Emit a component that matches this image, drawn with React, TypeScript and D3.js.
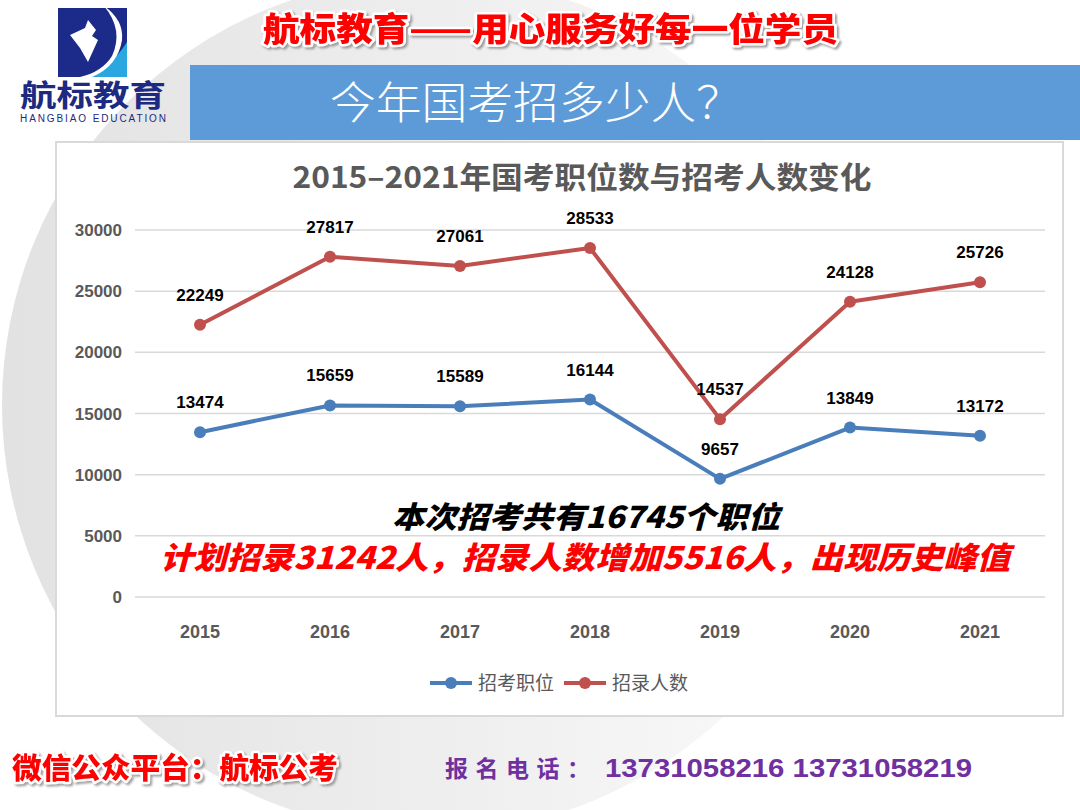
import * as d3 from "d3";

const years = ["2015", "2016", "2017", "2018", "2019", "2020", "2021"];
const positions = [13474, 15659, 15589, 16144, 9657, 13849, 13172];
const recruits = [22249, 27817, 27061, 28533, 14537, 24128, 25726];
const yTicks = [0, 5000, 10000, 15000, 20000, 25000, 30000];
const seriesNames = ["招考职位", "招录人数"];
const seriesColors = ["#4a7ebb", "#c0504d"];

const W = 1080;
const H = 810;
const plot = { left: 135, right: 1045, top: 230, bottom: 597 };

const CJK = "'Noto Sans CJK SC', sans-serif";
const NUM = "'Liberation Sans', Arial, sans-serif";

const App = () => {
  const x = d3
    .scalePoint<string>()
    .domain(years)
    .range([plot.left, plot.right])
    .padding(0.5);
  const y = d3.scaleLinear().domain([0, 30000]).range([plot.bottom, plot.top]);

  const line = d3
    .line<number>()
    .x((_, i) => x(years[i]) as number)
    .y((d) => y(d));

  const series = [positions, recruits];

  const redOutline = {
    fill: "#ff0000",
    stroke: "#ffffff",
    strokeWidth: 5,
    paintOrder: "stroke",
    strokeLinejoin: "round" as const,
    filter: "url(#shadow)",
  };

  return (
    <svg
      width={W}
      height={H}
      style={{ position: "absolute", left: 0, top: 0, background: "#fff" }}
    >
      <defs>
        <linearGradient id="circleGrad" x1="0" x2="1" y1="0" y2="0">
          <stop offset="0" stopColor="#e2e2e2" />
          <stop offset="0.55" stopColor="#efefef" />
          <stop offset="1" stopColor="#fbfbfb" />
        </linearGradient>
        <filter id="shadow" x="-10%" y="-30%" width="120%" height="160%">
          <feDropShadow dx="2" dy="2" stdDeviation="1.2" floodColor="#888" floodOpacity="0.8" />
        </filter>
      </defs>

      {/* background circle */}
      <circle cx={430} cy={405} r={428} fill="url(#circleGrad)" />

      {/* logo */}
      <g>
        <rect x={58} y={8} width={69} height={69} fill="#1c2a8a" />
        <path d="M127,42 L127,77 L88,77 Q112,66 127,42 Z" fill="#2aa6e0" />
        <path d="M104,6 Q124,30 112,56 Q102,72 80,77 L92,77 Q118,66 122,40 Q124,20 104,6 Z" fill="#ffffff" />
        <path d="M70,35 L85,28 L88,20 L96,30 L92,36 L98,40 L88,62 L80,48 Z" fill="#ffffff" />
        <text x={20} y={106} fontFamily={CJK} fontWeight={700} fontSize={30} fill="#1d2a82" textLength={146} lengthAdjust="spacingAndGlyphs">
          航标教育
        </text>
        <text x={20} y={122} fontFamily={NUM} fontSize={10} fill="#1d2a82" textLength={146} lengthAdjust="spacing">
          HANGBIAO EDUCATION
        </text>
      </g>

      {/* top slogan */}
      <text x={263} y={41} fontFamily={CJK} fontWeight={900} fontSize={33} textLength={575} lengthAdjust="spacingAndGlyphs" style={redOutline}>
        航标教育——用心服务好每一位学员
      </text>

      {/* banner */}
      <rect x={190} y={65} width={890} height={75} fill="#5c9bd8" />
      <text x={330} y={119} fontFamily={CJK} fontWeight={300} fontSize={44} fill="#ffffff" textLength={412} lengthAdjust="spacingAndGlyphs">
        今年国考招多少人？
      </text>

      {/* chart box */}
      <rect x={56} y={142} width={1007} height={574} fill="#ffffff" stroke="#d9d9d9" strokeWidth={2} />

      <text x={582} y={188} textAnchor="middle" fontFamily={CJK} fontWeight={700} fontSize={30} fill="#595959" textLength={579} lengthAdjust="spacingAndGlyphs">
        2015–2021年国考职位数与招考人数变化
      </text>

      {/* grid & y axis */}
      {yTicks.map((t) => (
        <g key={t}>
          <line x1={plot.left} x2={plot.right} y1={y(t)} y2={y(t)} stroke="#d9d9d9" strokeWidth={1.5} />
          <text x={122} y={y(t) + 6} textAnchor="end" fontFamily={NUM} fontWeight={700} fontSize={17} fill="#595959">
            {t}
          </text>
        </g>
      ))}

      {/* x axis labels */}
      {years.map((yr) => (
        <text key={yr} x={x(yr)} y={638} textAnchor="middle" fontFamily={NUM} fontWeight={700} fontSize={18} fill="#595959">
          {yr}
        </text>
      ))}

      {/* series */}
      {series.map((s, si) => (
        <g key={si}>
          <path d={line(s) || ""} fill="none" stroke={seriesColors[si]} strokeWidth={4} strokeLinejoin="round" />
          {s.map((v, i) => (
            <g key={i}>
              <circle cx={x(years[i])} cy={y(v)} r={6} fill={seriesColors[si]} />
              <text x={x(years[i])} y={y(v) - 24} textAnchor="middle" fontFamily={NUM} fontWeight={700} fontSize={17} fill="#000">
                {v}
              </text>
            </g>
          ))}
        </g>
      ))}

      {/* legend */}
      {seriesNames.map((n, i) => {
        const lx = 430 + i * 134;
        return (
          <g key={n}>
            <line x1={lx} x2={lx + 42} y1={683} y2={683} stroke={seriesColors[i]} strokeWidth={4} />
            <circle cx={lx + 21} cy={683} r={6} fill={seriesColors[i]} />
            <text x={lx + 48} y={690} fontFamily={CJK} fontSize={19} fill="#595959">
              {n}
            </text>
          </g>
        );
      })}

      {/* overlay annotations */}
      <text x={392} y={528} fontFamily={CJK} fontWeight={900} fontStyle="italic" fontSize={30} fill="#000" textLength={388} lengthAdjust="spacingAndGlyphs">
        本次招考共有16745个职位
      </text>
      <text x={160} y={569} fontFamily={CJK} fontWeight={900} fontStyle="italic" fontSize={31} fill="#ff0000" textLength={850} lengthAdjust="spacingAndGlyphs">
        计划招录31242人，招录人数增加5516人，出现历史峰值
      </text>

      {/* footer */}
      <text x={12} y={779} fontFamily={CJK} fontWeight={900} fontSize={29} textLength={326} lengthAdjust="spacingAndGlyphs" style={redOutline}>
        微信公众平台：航标公考
      </text>
      <text x={445} y={777} fontFamily={CJK} fontWeight={700} fontSize={23} fill="#7030a0" textLength={145} lengthAdjust="spacing">
        报名电话：
      </text>
      <text x={605} y={777} fontFamily={NUM} fontWeight={700} fontSize={26} fill="#7030a0" textLength={367} lengthAdjust="spacingAndGlyphs">
        13731058216 13731058219
      </text>
    </svg>
  );
};

export default App;
